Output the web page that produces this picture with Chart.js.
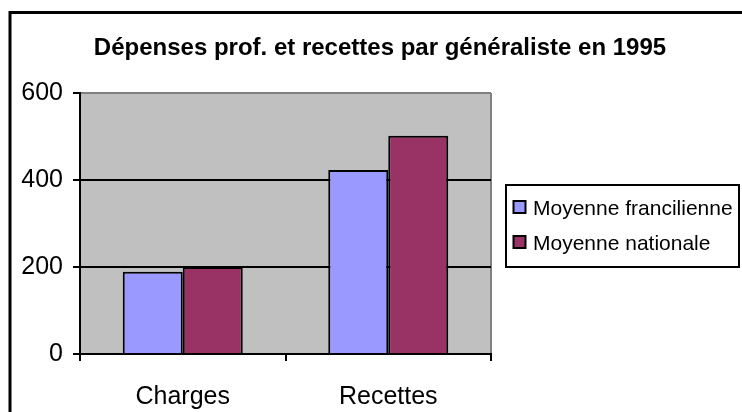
<!DOCTYPE html>
<html>
<head>
<meta charset="utf-8">
<script src="https://cdn.jsdelivr.net/npm/chart.js@4"></script>
<style>
  html, body { margin: 0; padding: 0; background: #fff; }
  #wrap { width: 742px; height: 412px; }
</style>
</head>
<body>
<div id="wrap"><canvas id="myChart"></canvas></div>
<script>
const categories = ['Charges', 'Recettes'];
const seriesNames = ['Moyenne francilienne', 'Moyenne nationale'];
const francilienne = [189, 423];
const nationale = [200, 502];
const yTicks = [0, 200, 400, 600];
const titleText = 'Dépenses prof. et recettes par généraliste en 1995';

const FONT = "'Liberation Sans', Arial, sans-serif";
Chart.defaults.font.family = FONT;
Chart.defaults.color = '#000';

// frame, grey plot area, title and boxed legend (Excel style)
const excelPlugin = {
  id: 'excel',
  beforeDraw(chart) {
    const { ctx, chartArea: a } = chart;
    ctx.save();
    ctx.fillStyle = '#fff';
    ctx.fillRect(0, 0, chart.width, chart.height);
    ctx.strokeStyle = '#000';
    ctx.lineWidth = 3;
    ctx.strokeRect(10, 12.5, chart.width + 20, chart.height + 20);
    ctx.fillStyle = '#C0C0C0';
    ctx.fillRect(a.left, a.top, a.right - a.left, a.bottom - a.top);
    ctx.strokeStyle = '#808080';
    ctx.lineWidth = 2;
    ctx.beginPath();
    ctx.moveTo(a.right, a.top);
    ctx.lineTo(a.right, a.bottom);
    ctx.stroke();

    ctx.fillStyle = '#000';
    ctx.font = 'bold 24px ' + FONT;
    ctx.textAlign = 'center';
    ctx.textBaseline = 'alphabetic';
    ctx.fillText(titleText, 380, 54.5);
    ctx.restore();
  },
  afterDraw(chart) {
    const { ctx } = chart;
    const sets = chart.data.datasets;
    ctx.save();
    ctx.strokeStyle = '#000';
    ctx.lineWidth = 2;
    ctx.strokeRect(506, 185, 233, 82);
    ctx.font = '21px ' + FONT;
    ctx.textAlign = 'left';
    ctx.textBaseline = 'alphabetic';
    sets.forEach((ds, i) => {
      const y = 201 + i * 35;
      ctx.fillStyle = ds.backgroundColor;
      ctx.fillRect(513.5, y, 12, 12);
      ctx.strokeStyle = '#000';
      ctx.lineWidth = 2;
      ctx.strokeRect(513.5, y, 12, 12);
      ctx.fillStyle = '#000';
      ctx.fillText(ds.label, 533, y + 14);
    });
    ctx.restore();
  }
};

const ctx = document.getElementById('myChart').getContext('2d');

new Chart(ctx, {
  type: 'bar',
  data: {
    labels: categories,
    datasets: [{
      label: seriesNames[0],
      data: francilienne,
      backgroundColor: '#9999FF',
      borderColor: '#000',
      borderWidth: 2,
      categoryPercentage: 0.584,
      barPercentage: 1
    }, {
      label: seriesNames[1],
      data: nationale,
      backgroundColor: '#993366',
      borderColor: '#000',
      borderWidth: 2,
      categoryPercentage: 0.584,
      barPercentage: 1
    }]
  },
  options: {
    responsive: true,
    maintainAspectRatio: false,
    animation: false,
    layout: { padding: { left: 0, top: 93, right: 251, bottom: 0 } },
    plugins: {
      title: { display: false },
      legend: { display: false },
      tooltip: { enabled: false }
    },
    scales: {
      x: {
        afterFit(scale) { scale.height = 58; },
        grid: { drawOnChartArea: false, color: '#000', lineWidth: 2, tickLength: 7, offset: true },
        border: { color: '#000', width: 2 },
        ticks: { color: '#000', padding: 24, font: { size: 25, lineHeight: 1 } }
      },
      y: {
        min: 0,
        max: 600,
        afterFit(scale) { scale.width = 80; },
        afterBuildTicks(scale) { scale.ticks = yTicks.map(v => ({ value: v })); },
        grid: {
          color: c => (c.tick && c.tick.value === 600 ? '#808080' : '#000'),
          lineWidth: 2,
          tickLength: 7,
          tickColor: '#000'
        },
        border: { color: '#000', width: 2 },
        ticks: { color: '#000', padding: 10, font: { size: 25 } }
      }
    }
  },
  plugins: [excelPlugin]
});
</script>
</body>
</html>
